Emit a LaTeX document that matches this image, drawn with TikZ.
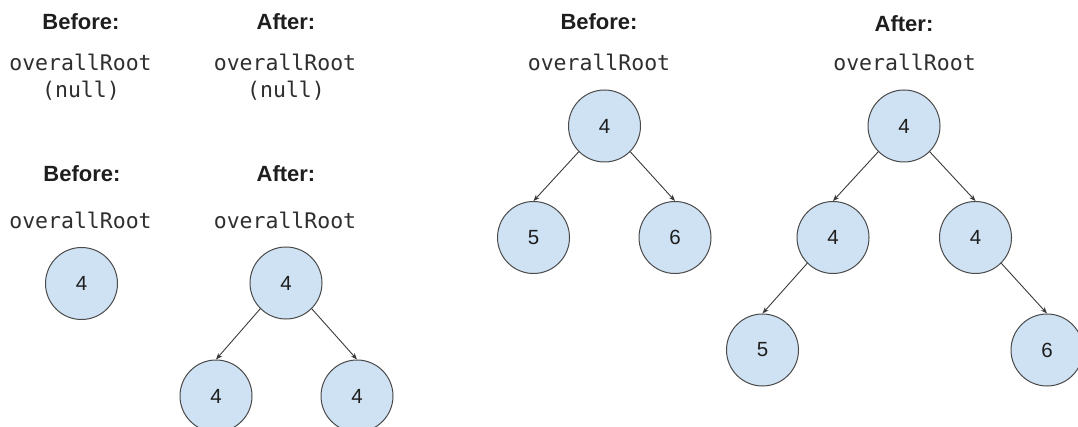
\documentclass[tikz,border=0pt]{standalone}
\usepackage{fontspec}
\setmainfont{Liberation Sans}
\newfontfamily\monof{DejaVu Sans Mono}
\usetikzlibrary{arrows.meta}
\definecolor{nodefill}{HTML}{CFE2F3}
\definecolor{nodeline}{HTML}{4A4A4A}
\definecolor{arrline}{HTML}{3A3A3A}
\definecolor{codetext}{HTML}{2E2E2E}
\definecolor{headtext}{HTML}{1E1E1E}
\begin{document}
\begin{tikzpicture}[x=1pt,y=-1pt,
  tnode/.style={circle,draw=nodeline,fill=nodefill,line width=1pt,minimum size=72pt,inner sep=0pt,text=headtext,font=\fontsize{20.5}{20.5}\selectfont},
  head/.style={anchor=base,inner sep=0pt,text=headtext,font=\bfseries\fontsize{22}{22}\selectfont},
  code/.style={anchor=base,inner sep=0pt,text=codetext,font=\monof\fontsize{21.5}{21.5}\selectfont},
  arr/.style={draw=arrline,line width=0.9pt,-{Stealth[length=6.5pt,width=5pt]}}]
\useasboundingbox (0,0) rectangle (1078,427);
\clip (0,0) rectangle (1078,427);
% case 1: empty tree
\node[head] (b1) at (81,30) {Before:};
\node[code] (b1r) at (80.5,70.5) {overallRoot};
\node[code] (b1n) at (81,98) {(null)};
\node[head] (a1) at (286,30) {After:};
\node[code] (a1r) at (285,70.5) {overallRoot};
\node[code] (a1n) at (286,98) {(null)};
% case 2: single node
\node[head] (b2) at (82,182) {Before:};
\node[code] (b2r) at (80.5,228.3) {overallRoot};
\node[tnode] (b2n) at (81.5,283.5) {4};
\node[head] (a2) at (286,182) {After:};
\node[code] (a2r) at (285,228.3) {overallRoot};
\node[tnode] (a2n) at (286,283) {4};
\node[tnode] (a2l) at (216,396) {4};
\node[tnode] (a2rr) at (357,396) {4};
\draw[arr] (a2n.225) -- (a2l.north);
\draw[arr] (a2n.-45) -- (a2rr.north);
% case 3: three nodes
\node[head] (b3) at (599,30) {Before:};
\node[code] (b3r) at (599,70.5) {overallRoot};
\node[tnode] (b3n) at (604.5,126) {4};
\node[tnode] (b3l) at (533.5,237.5) {5};
\node[tnode] (b3rr) at (675,237.5) {6};
\draw[arr] (b3n.225) -- (b3l.north);
\draw[arr] (b3n.-45) -- (b3rr.north);
\node[head] (a3) at (904,31.5) {After:};
\node[code] (a3r) at (904.5,70.5) {overallRoot};
\node[tnode] (a3n) at (904,126) {4};
\node[tnode] (a3l) at (833,237.5) {4};
\node[tnode] (a3rr) at (975.5,237.5) {4};
\node[tnode] (a3ll) at (762.5,350) {5};
\node[tnode] (a3rrr) at (1047,350) {6};
\draw[arr] (a3n.225) -- (a3l.north);
\draw[arr] (a3n.-45) -- (a3rr.north);
\draw[arr] (a3l.225) -- (a3ll.north);
\draw[arr] (a3rr.-45) -- (a3rrr.north);
\end{tikzpicture}
\end{document}
